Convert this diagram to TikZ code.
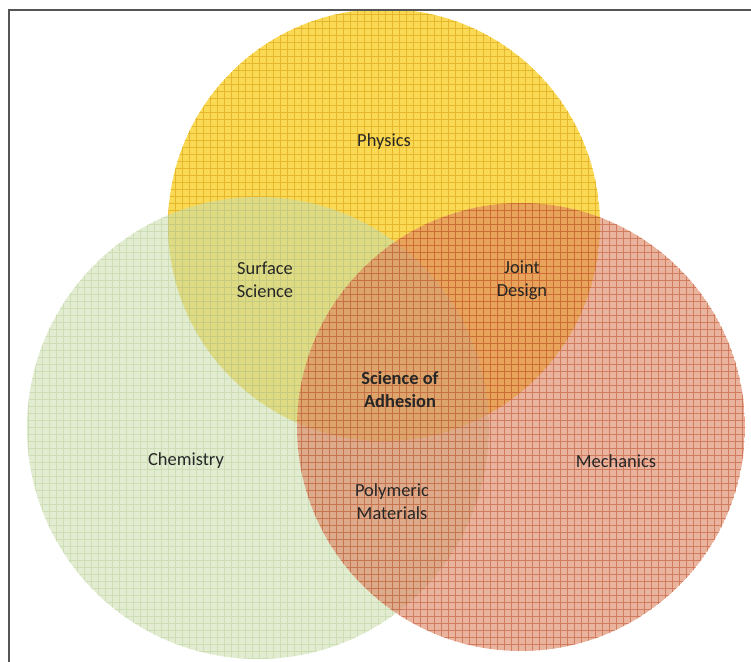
\documentclass[tikz,border=0pt]{standalone}
\usepackage{fontspec}
\setmainfont{Carlito}
\usetikzlibrary{positioning}
\definecolor{physfill}{HTML}{FADA55}
\definecolor{physgrid}{HTML}{E6B62C}
\definecolor{chemfill}{HTML}{C9DDAA}
\definecolor{chemgrid}{HTML}{B5CC95}
\definecolor{mechfill}{HTML}{DC805E}
\definecolor{mechgrid}{HTML}{B8461F}
\definecolor{frame}{HTML}{555555}

\begin{document}
\begin{tikzpicture}[x=0.02cm,y=-0.02cm,
    topic/.style = {font=\fontsize{10.5}{13}\selectfont, align=center, text=black!85},
    core/.style = {topic, font=\fontsize{10.5}{13}\selectfont\bfseries},
    gridlines/.style = {step=0.14cm, line width=0.3pt}]
  \useasboundingbox (0,0) rectangle (751,662);
  % physics
  \begin{scope}
    \clip (384,225) circle (216);
    \fill [physfill] (384,225) circle (216);
    \draw [gridlines,physgrid] (160,0) grid (610,450);
  \end{scope}
  % chemistry
  \begin{scope}
    \clip (258,428) circle (231);
    \fill [chemfill,fill opacity=0.55] (258,428) circle (231);
    \draw [gridlines,chemgrid,opacity=0.45] (20,190) grid (500,670);
  \end{scope}
  % mechanics
  \begin{scope}
    \clip (521,427) circle (224);
    \fill [mechfill,fill opacity=0.6] (521,427) circle (224);
    \draw [gridlines,mechgrid,opacity=0.5] (290,195) grid (760,660);
  \end{scope}
  % frame
  \draw [frame,line width=1.2pt] (9,662) |- (751,10);

  \node [topic] (phys) at (384,142) {Physics};
  \node [topic] (surf) at (265,280) {Surface\\Science};
  \node [topic] (joint) at (522,280) {Joint\\Design};
  \node [core] (adh) at (400,390) {Science of\\Adhesion};
  \node [topic] (chem) at (186,461) {Chemistry};
  \node [topic] (mech) at (616,461) {Mechanics};
  \node [topic] (poly) at (392,502) {Polymeric\\Materials};
\end{tikzpicture}
\end{document}
